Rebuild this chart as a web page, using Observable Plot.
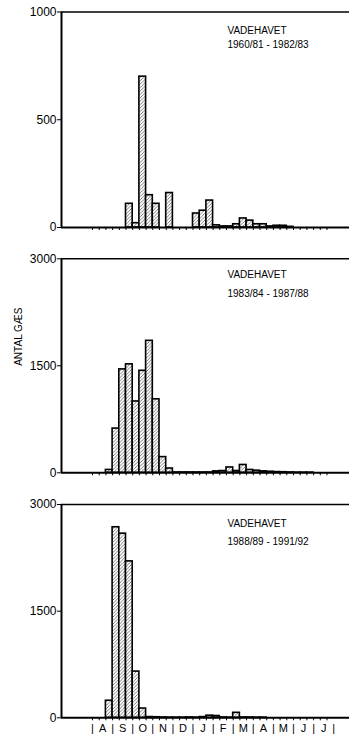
<!DOCTYPE html>
<html><head><meta charset="utf-8">
<script src="https://cdn.jsdelivr.net/npm/d3@7"></script>
<script src="https://cdn.jsdelivr.net/npm/@observablehq/plot@0.6"></script>
<style>
body{margin:0;background:#fff;}
#chart{position:relative;width:349px;height:735px;overflow:hidden;font-family:"Liberation Sans",Arial,sans-serif;}
#chart svg{position:absolute;left:0;}
</style></head><body><div id="chart"></div>
<script>
// 36 ten-day periods (dekads), August .. July
const bins = d3.range(36);
const months = ["A","S","O","N","D","J","F","M","A","M","J","J"];
const site = "VADEHAVET";
const periods = ["1960/81 - 1982/83", "1983/84 - 1987/88", "1988/89 - 1991/92"];
const yLabel = "ANTAL GÆS";
const yMax = [1000, 3000, 3000];
const yTicks = [[0, 500, 1000], [0, 1500, 3000], [0, 1500, 3000]];
const values1 = [0,0,0,0,0,110,20,700,150,110,0,160,0,0,0,65,78,125,10,5,5,15,42,32,15,15,5,8,8,3,0,0,0,0,0,0];
const values2 = [0,0,40,620,1450,1520,1000,1430,1850,1030,220,60,5,5,5,5,5,5,20,25,75,25,110,40,30,20,15,10,8,5,3,3,3,0,0,0];
const values3 = [0,0,240,2680,2590,2200,650,130,10,8,5,3,3,3,5,3,10,30,25,5,3,70,5,5,3,3,0,0,0,0,0,0,0,0,0,0];
const series = [values1, values2, values3];

// layout
const W = 349;
const panels = [
  {top: 0,   height: 245, mt: 11.5, mb: 18,   textDy: 18.5, lineGap: 14},
  {top: 246, height: 246, mt: 12.3, mb: 19.7, textDy: 16,   lineGap: 19},
  {top: 492, height: 243, mt: 12,   mb: 17.7, textDy: 19.3, lineGap: 18.4}
];
const xDomain = [-4.627, 38.36];
const edges = d3.range(0, 36);
const root = document.getElementById("chart");

series.forEach((vals, p) => {
  const cfg = panels[p];
  const data = bins.map((b, i) => ({bin: b, value: vals[i]})).filter(d => d.value > 0);
  const hatchId = "hatch" + p;
  const marks = [
    Plot.rect(data, {x1: d => d.bin, x2: d => d.bin + 1, y1: 0, y2: "value",
      fill: `url(#${hatchId})`, stroke: "black", strokeWidth: 1.6}),
    Plot.axisY({ticks: yTicks[p], tickSize: 4, tickPadding: 1, tickFormat: d => String(d), label: null, fontSize: 12}),
    Plot.axisX({ticks: edges, tickSize: 3, tickFormat: () => "", label: null}),
    Plot.ruleY([0], {stroke: "black", strokeWidth: 2}),
    Plot.ruleY([yMax[p]], {stroke: "black", strokeWidth: 1.4}),
    Plot.ruleX([xDomain[0]], {stroke: "black", strokeWidth: 2}),
    Plot.text([site], {frameAnchor: "top-left", dx: 166, dy: cfg.textDy, lineAnchor: "middle", fontSize: 10}),
    Plot.text([periods[p]], {frameAnchor: "top-left", dx: 166, dy: cfg.textDy + cfg.lineGap, lineAnchor: "middle", fontSize: 10})
  ];
  if (p === 1) {
    marks.push(Plot.text([yLabel], {frameAnchor: "left", dx: -43, rotate: -90, fontSize: 10}));
  }
  if (p === 2) {
    marks.push(Plot.text(months.map((m, i) => ({m, x: i * 3 + 1.5})), {x: "x", y: 0, text: "m", dy: 11, fontSize: 11}));
    marks.push(Plot.text(d3.range(13).map(i => ({x: i * 3})), {x: "x", y: 0, text: () => "|", dy: 11, fontSize: 11}));
  }
  const svg = Plot.plot({
    width: W, height: cfg.height,
    marginLeft: 61, marginRight: 0, marginTop: cfg.mt, marginBottom: cfg.mb,
    x: {domain: xDomain, axis: null},
    y: {domain: [0, yMax[p]], axis: null},
    style: {fontFamily: '"Liberation Sans", Arial, sans-serif', fontSize: "11px", color: "black", background: "transparent", overflow: "visible"},
    marks
  });
  const defs = d3.select(svg).insert("defs", ":first-child");
  const pat = defs.append("pattern").attr("id", hatchId).attr("patternUnits", "userSpaceOnUse")
    .attr("width", 3.4).attr("height", 3.4);
  pat.append("rect").attr("width", 3.4).attr("height", 3.4).attr("fill", "white");
  pat.append("path").attr("d", "M-1,1 L1,-1 M0,3.4 L3.4,0 M2.4,4.4 L4.4,2.4")
    .attr("stroke", "#222").attr("stroke-width", 0.6);
  svg.style.top = cfg.top + "px";
  root.appendChild(svg);
});
</script></body></html>
